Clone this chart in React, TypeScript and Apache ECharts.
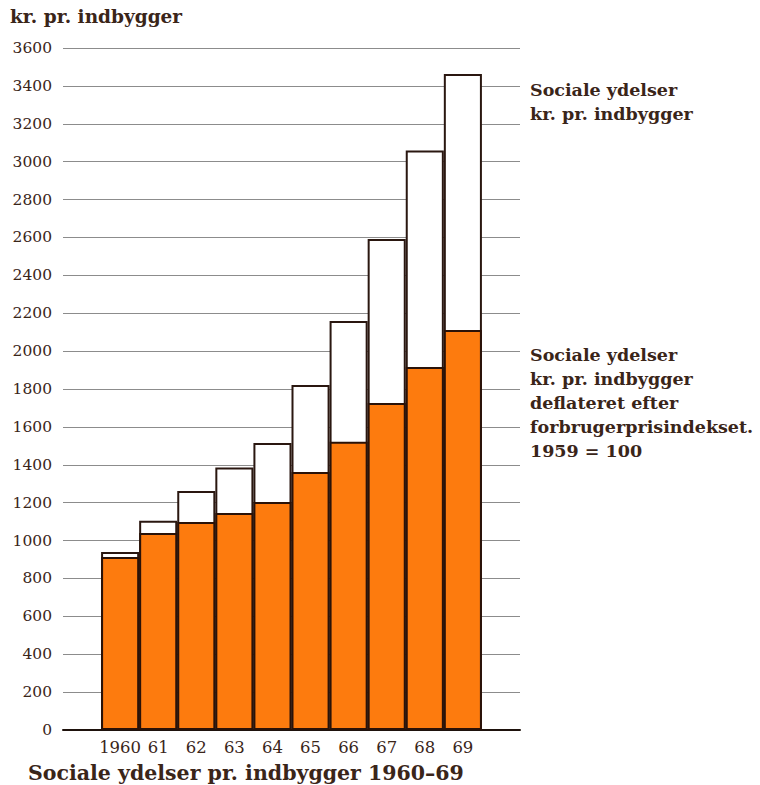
import React, { useEffect, useRef } from "react";
import * as echarts from "echarts";

const years = ["1960", "61", "62", "63", "64", "65", "66", "67", "68", "69"];
const nominal = [940, 1104, 1262, 1385, 1515, 1821, 2159, 2592, 3059, 3463];
const deflated = [913, 1040, 1098, 1146, 1204, 1362, 1521, 1726, 1916, 2112];
const yTicks = { min: 0, max: 3600, interval: 200 };

const TXT = "#3a2519";
const FONT = "DejaVu Serif";

export default function App() {
  const ref = useRef<HTMLDivElement>(null);
  useEffect(() => {
    if (!ref.current) return;
    const chart = echarts.init(ref.current, null, { renderer: "svg" });
    const cats = ["", ...years, ""];
    const pad = (a: number[]) => [null, ...a, null];
    chart.setOption({
      animation: false,
      backgroundColor: "#ffffff",
      grid: { left: 63, right: 240, top: 48, bottom: 55, containLabel: false },
      xAxis: {
        type: "category",
        data: cats,
        boundaryGap: true,
        axisTick: { show: false },
        axisLine: { show: true, lineStyle: { color: "#1e120c", width: 2 } },
        axisLabel: { color: TXT, fontFamily: FONT, fontSize: 16.5, margin: 9, interval: 0 },
      },
      yAxis: {
        type: "value",
        min: yTicks.min,
        max: yTicks.max,
        interval: yTicks.interval,
        axisLine: { show: false },
        axisTick: { show: false },
        axisLabel: {
          color: TXT,
          fontFamily: FONT,
          fontSize: 15.5,
          margin: 11,
          formatter: (v: number) => String(v),
        },
        splitLine: { show: true, lineStyle: { color: "#8c8c8c", width: 1 } },
      },
      series: [
        {
          type: "bar",
          data: pad(nominal),
          barWidth: "100%",
          barGap: "-100%",
          itemStyle: { color: "#ffffff", borderColor: "#2a1710", borderWidth: 2 },
          z: 2,
        },
        {
          type: "bar",
          data: pad(deflated),
          barWidth: "100%",
          barGap: "-100%",
          itemStyle: { color: "#fd7b0e", borderColor: "#2a1208", borderWidth: 2 },
          z: 3,
        },
      ],
      graphic: [
        {
          type: "text",
          left: 10,
          top: 7,
          style: { text: "kr. pr. indbygger", fill: TXT, font: `bold 18.5px "${FONT}"` },
        },
        {
          type: "text",
          left: 28,
          top: 762,
          style: { text: "Sociale ydelser pr. indbygger 1960–69", fill: TXT, font: `bold 20.5px "${FONT}"` },
        },
        {
          type: "text",
          left: 530,
          top: 78,
          style: {
            text: "Sociale ydelser\nkr. pr. indbygger",
            fill: TXT,
            font: `bold 17.5px "${FONT}"`,
            lineHeight: 24,
          },
        },
        {
          type: "text",
          left: 530,
          top: 343,
          style: {
            text: "Sociale ydelser\nkr. pr. indbygger\ndeflateret efter\nforbrugerprisindekset.\n1959 = 100",
            fill: TXT,
            font: `bold 17.5px "${FONT}"`,
            lineHeight: 24,
          },
        },
      ],
    });
    return () => chart.dispose();
  }, []);
  return <div ref={ref} style={{ width: 760, height: 785, position: "absolute", left: 0, top: 0 }} />;
}
